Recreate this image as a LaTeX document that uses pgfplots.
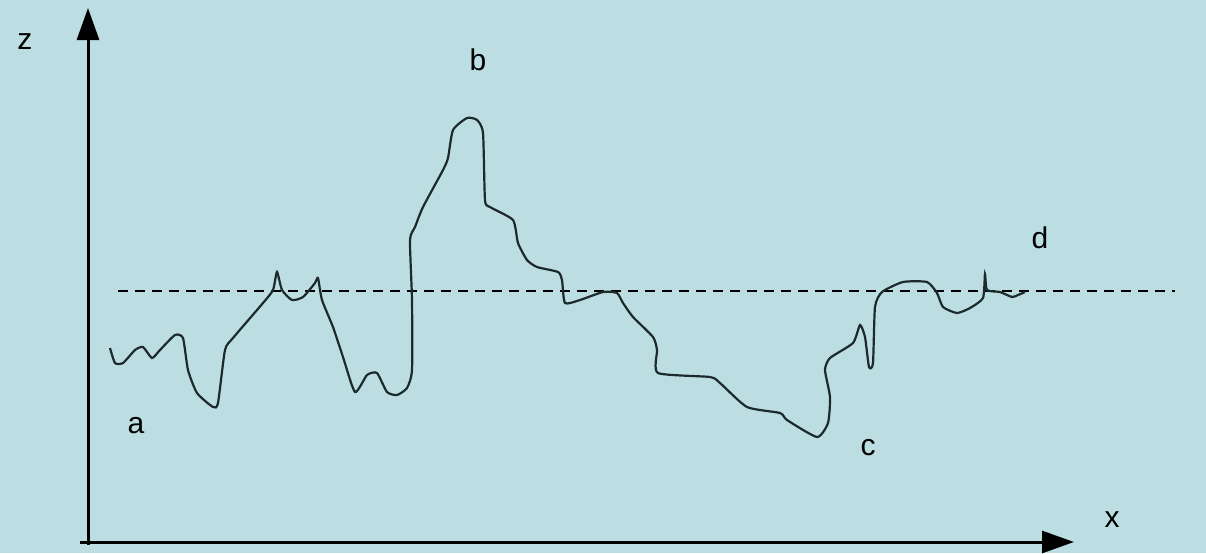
\documentclass[border=0pt]{standalone}
\usepackage{pgfplots}
\pgfplotsset{compat=1.18}
\usepackage{fontspec}
\setmainfont{Liberation Sans}
\usetikzlibrary{arrows.meta}
\definecolor{bg}{RGB}{188,222,226}
\definecolor{ink}{RGB}{28,42,44}
\begin{document}
\begin{tikzpicture}
\begin{axis}[
  scale only axis, width=603pt, height=276.5pt,
  xmin=0, xmax=1206, ymin=0, ymax=553, y dir=reverse,
  hide axis, clip=false]
\fill[bg] (rel axis cs:0,0) rectangle (rel axis cs:1,1);
% dashed reference line
\addplot[black, line width=0.9pt, dash pattern=on 5pt off 3.5pt] coordinates {(118,291) (1175,291)};
% profile
\addplot[ink, line width=1.1pt, smooth, tension=0.35] coordinates {
(110,348) (115,363) (123,363) (135,350) (143,347) (152,358) (160,350) (175,335) (183,338)
(188,370) (197,393) (213,407) (218,403) (225,350) (233,338) (263,303) (273,290) (277,272)
(282,290) (292,300) (303,297) (315,283) (318,278) (322,300) (333,327) (343,357) (355,392)
(367,375) (377,373) (387,392) (397,395) (407,388) (412,370) (412,300) (410,240) (415,227)
(423,207) (443,170) (448,158) (453,130) (467,118) (477,120) (483,133) (485,200) (490,207)
(513,220) (518,243) (527,260) (537,267) (558,272) (562,280) (565,303) (580,300) (603,292)
(617,293) (623,303) (633,317) (653,337) (657,350) (658,373) (710,377) (720,383) (747,407)
(780,413) (787,420) (817,437) (828,423) (830,397) (825,370) (830,358) (853,343) (860,325)
(865,337) (869,367) (873,363) (875,307) (882,292) (903,282) (927,282) (937,293) (943,307)
(957,313) (970,308) (983,298) (985,274) (987,290) (1000,292) (1012,297) (1018,295) (1025,292)};
% axes
\addplot[black, line width=1.5pt, -{Triangle[width=11pt,length=16pt]}] coordinates {(88,545) (88,8)};
\addplot[black, line width=1.5pt, -{Triangle[width=11pt,length=16pt]}] coordinates {(80,542) (1074,542)};
% labels
\node[font=\fontsize{15pt}{18pt}\selectfont] at (axis cs:25,42) {z};
\node[font=\fontsize{15pt}{18pt}\selectfont] at (axis cs:1112,520) {x};
\node[font=\fontsize{15pt}{18pt}\selectfont] at (axis cs:136,426) {a};
\node[font=\fontsize{15pt}{18pt}\selectfont] at (axis cs:478,60) {b};
\node[font=\fontsize{15pt}{18pt}\selectfont] at (axis cs:868,448) {c};
\node[font=\fontsize{15pt}{18pt}\selectfont] at (axis cs:1040,238) {d};
\end{axis}
\end{tikzpicture}
\end{document}
